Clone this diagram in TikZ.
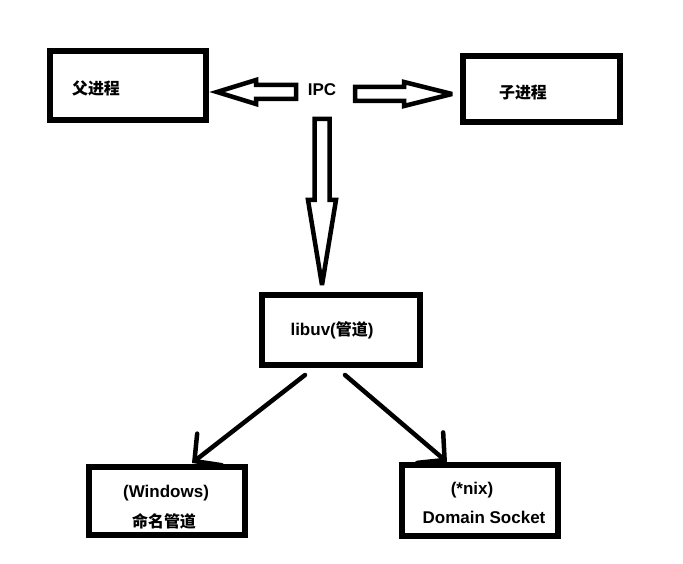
\documentclass[tikz,border=0pt]{standalone}
\usepackage{fontspec}
\setmainfont{Liberation Sans}
\newfontfamily\cjk{Noto Sans CJK SC}[Scale=0.94]
\usetikzlibrary{arrows.meta,calc}

\tikzset{
  pics/hueca/.style n args={4}{code={
    \draw[bloque] (0,-#3) -- (#1,-#3) -- (#1,-#4) -- (#1+#2,0)
      -- (#1,#4) -- (#1,#3) -- (0,#3) -- cycle;
  }}
}

\begin{document}
\begin{tikzpicture}[x=1pt, y=-1pt,
  caja/.style={draw, line width=5.5pt, inner sep=0pt},
  texto/.style={inner sep=0pt, font=\fontsize{17}{20}\selectfont\bfseries},
  bloque/.style={draw, line width=4.5pt, line join=miter, miter limit=4},
  flecha/.style={-{Straight Barb[length=19pt, width=40pt, line cap=round]},
    line width=4.5pt, line cap=round},
]
  \useasboundingbox (0,0) rectangle (683,564);
  % Cajas
  \node[caja, minimum width=156, minimum height=69] (padre) at (128,85.5) {};
  \node[caja, minimum width=157, minimum height=66] (hijo) at (541.5,89) {};
  \node[caja, minimum width=158, minimum height=70] (libuv) at (341,330) {};
  \node[caja, minimum width=156, minimum height=68] (win) at (167,501) {};
  \node[caja, minimum width=156, minimum height=71] (nix) at (480,500.5) {};
  % Textos
  \node[texto] (tpadre) at (96,88) {\cjk 父进程};
  \node[texto] (thijo) at (523,93) {\cjk 子进程};
  \node[texto] (ipc) at (322,90) {IPC};
  \node[texto] (tlibuv) at (332,330) {libuv({\cjk 管道})};
  \node[texto] (twin1) at (166,493) {(Windows)};
  \node[texto] (twin2) at (164,521) {\cjk 命名管道};
  \node[texto] (tnix1) at (472,490) {(*nix)};
  \node[texto] (tnix2) at (484,517) {Domain Socket};
  % Flechas huecas
  \pic[rotate=180] at (296,92) {hueca={40}{39}{7}{12}};
  \pic at (355,94) {hueca={49}{48}{7}{12}};
  \pic[rotate=-90] at (322,119) {hueca={81}{166-81}{7.5}{14}};
  % Flechas a las plataformas
  \coordinate (s1) at (305,375);
  \coordinate (e1) at (192,463);
  \coordinate (s2) at (345,375);
  \coordinate (e2) at (447,462);
  \foreach \a/\b in {s1/e1, s2/e2}
    \draw[flecha] (\a) -- (\b);
\end{tikzpicture}
\end{document}
